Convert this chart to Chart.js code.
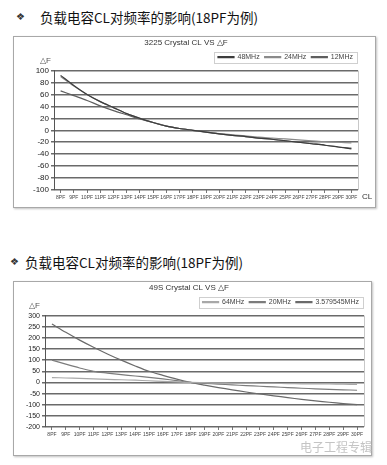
<!DOCTYPE html>
<html>
<head>
<meta charset="utf-8">
<script src="https://cdn.jsdelivr.net/npm/chart.js@4.4.0/dist/chart.umd.min.js"></script>
<style>
  body { margin: 0; background: #fff; width: 387px; height: 465px; overflow: hidden; position: relative; }
  .head { position: absolute; font-family: "Noto Sans CJK SC", sans-serif; font-size: 13.5px; color: #111; white-space: nowrap; line-height: 18px; }
  .dia { position: absolute; font-size: 10px; color: #333; line-height: 18px; }
  .box { position: absolute; border: 1.5px solid #a8a8a8; box-shadow: 1px 1px 2px rgba(0,0,0,0.25); background: #fff; box-sizing: border-box; }
  canvas.cv { position: absolute; }
  .mark { position: absolute; font-family: "Noto Sans CJK SC", sans-serif; font-size: 12px; color: #c4c4c4; white-space: nowrap; }
</style>
</head>
<body>
<span class="dia" style="left:16px;top:8px">❖</span>
<div class="head" style="left:40px;top:8px">负载电容CL对频率的影响(18PF为例)</div>
<div class="box" style="left:13px;top:36px;width:363px;height:172px"></div>
<canvas class="cv" id="c1" style="left:14px;top:37px" width="360" height="169"></canvas>

<span class="dia" style="left:10px;top:253px">❖</span>
<div class="head" style="left:25px;top:253px">负载电容CL对频率的影响(18PF为例)</div>
<div class="box" style="left:13px;top:281px;width:359px;height:175px"></div>
<canvas class="cv" id="c2" style="left:14px;top:282px" width="356" height="172"></canvas>
<div class="mark" style="left:300px;top:438px">电子工程专辑</div>

<script>
// 负载电容 (X 轴)
const capLabels = ['8PF','9PF','10PF','11PF','12PF','13PF','14PF','15PF','16PF','17PF','18PF','19PF',
  '20PF','21PF','22PF','23PF','24PF','25PF','26PF','27PF','28PF','29PF','30PF'];

// 3225 Crystal
const names3225 = ['48MHz', '24MHz', '12MHz'];
const df3225_48 = [92, 75, 60, 48, 38, 28, 20, 13, 7, 3, 0, -3, -6, -8.5, -10.5, -13, -15, -17.5, -20, -22.5, -25, -28, -31];
const df3225_24 = [90, 74, 60, 48, 38, 28, 20, 13, 7, 3, 0, -3, -5.5, -7.5, -9.5, -11.5, -13, -14.5, -16, -17.5, -19, -20, -21];
const df3225_12 = [66, 58, 50, 41, 33, 26, 19, 13, 7, 3, 0, -3, -6, -8.5, -10.5, -13, -15, -17.5, -20, -22.5, -25, -28, -30];

// 49S Crystal
const names49s = ['64MHz', '20MHz', '3.579545MHz'];
const df49s_64 = [22, 20, 18, 16, 14, 12, 10, 7.5, 5, 2.5, 0, -1, -2, -2.5, -3, -4, -4.5, -5, -6, -6.5, -7, -8, -9];
const df49s_20 = [100, 82, 65, 50, 42, 35, 29, 23, 16, 8, 0, -4, -7.5, -11, -14, -17, -20, -23, -26, -28.5, -31, -33, -35];
const df49s_3m = [262, 225, 190, 158, 128, 100, 74, 50, 32, 15, 0, -12, -23, -33, -43, -52, -60, -68, -76, -83, -89, -95, -100];

Chart.defaults.font.family = '"Liberation Sans", Arial, sans-serif';
Chart.defaults.color = '#222';

// y 轴上方 △F 与 x 轴右侧 CL 标注, 以及绘图区右边框
const axisNotes = {
  id: 'axisNotes',
  afterDraw(chart, args, opts) {
    const { ctx, chartArea } = chart;
    ctx.save();
    ctx.strokeStyle = '#c8c8c8';
    ctx.lineWidth = 1;
    ctx.beginPath();
    ctx.moveTo(chartArea.right + 0.5, chartArea.top);
    ctx.lineTo(chartArea.right + 0.5, chartArea.bottom);
    ctx.stroke();
    ctx.fillStyle = '#555';
    ctx.font = '8px "Liberation Sans", Arial, sans-serif';
    ctx.textBaseline = 'middle';
    ctx.textAlign = 'left';
    ctx.fillText('△F', chartArea.left + opts.dfX, chartArea.top + opts.dfY);
    if (opts.cl) {
      ctx.fillStyle = '#333';
      ctx.fillText('CL', chartArea.right + 4, chartArea.bottom + 7);
    }
    ctx.restore();
  }
};

// 图例外框
const legendFrame = {
  id: 'legendFrame',
  afterDraw(chart) {
    const items = chart.legend.legendHitBoxes;
    if (!items || !items.length) return;
    const first = items[0], last = items[items.length - 1];
    const { ctx } = chart;
    ctx.save();
    ctx.strokeStyle = '#cfcfcf';
    ctx.lineWidth = 1;
    ctx.strokeRect(Math.round(first.left - 4) + 0.5, Math.round(first.top - 2) + 0.5,
      Math.round(last.left + last.width - first.left + 8), Math.round(first.height + 4));
    ctx.restore();
  }
};

function makeChart(id, title, names, series, colors, yMin, yMax, yStep, dims) {
  const ctx = document.getElementById(id).getContext('2d');
  return new Chart(ctx, {
    type: 'line',
    data: {
      labels: capLabels,
      datasets: series.map((d, i) => ({
        label: names[i],
        data: d,
        borderColor: colors[i],
        backgroundColor: colors[i],
        borderWidth: 1.2,
        pointRadius: 0,
        tension: 0.3,
        fill: false
      }))
    },
    options: {
      responsive: false,
      animation: false,
      layout: { padding: { left: 0, right: dims.padRight, top: 0, bottom: 0 } },
      plugins: {
        title: {
          display: true, text: title, color: '#333',
          font: { size: 8, weight: 'normal' },
          padding: { top: 1, bottom: 1 }
        },
        legend: {
          display: true, position: 'top', align: 'end',
          labels: {
            boxWidth: 16, boxHeight: 1,
            font: { size: dims.legendFont }, color: '#444', padding: 5
          }
        },
        tooltip: { enabled: false },
        axisNotes: { dfX: dims.dfX, dfY: -10, cl: dims.cl }
      },
      scales: {
        x: {
          offset: true,
          grid: { drawOnChartArea: false, drawTicks: true, tickLength: 3, color: '#777' },
          border: { display: false },
          ticks: { font: { size: 5 }, color: '#444', maxRotation: 0, autoSkip: false, padding: 2 },
          afterFit: s => { s.height = dims.xHeight; }
        },
        y: {
          min: yMin, max: yMax,
          grid: { color: '#6a6a6a', lineWidth: 1.5, tickLength: 3 },
          border: { color: '#555', width: 1 },
          ticks: { stepSize: yStep, autoSkip: false, font: { size: dims.yFont }, color: '#222', padding: 2 },
          afterFit: s => { s.width = dims.yWidth; }
        }
      }
    },
    plugins: [axisNotes, legendFrame]
  });
}

makeChart('c1', '3225 Crystal CL VS △F', names3225, [df3225_48, df3225_24, df3225_12],
  ['#3c3c3c', '#8a8a8a', '#5e5e5e'], -100, 100, 20,
  { padRight: 16, yWidth: 40, xHeight: 16, legendFont: 7, yFont: 8, dfX: -14, cl: true });

makeChart('c2', '49S Crystal CL VS △F', names49s, [df49s_64, df49s_20, df49s_3m],
  ['#a8a8a8', '#7c7c7c', '#6a6a6a'], -200, 300, 50,
  { padRight: 6, yWidth: 31, xHeight: 27, legendFont: 7, yFont: 7, dfX: -16, cl: false });
</script>
</body>
</html>
